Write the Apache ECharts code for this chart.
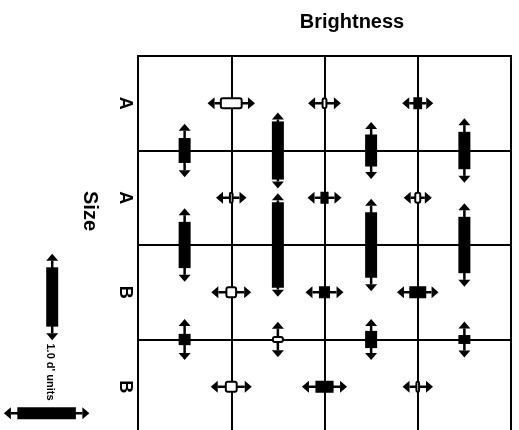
<!DOCTYPE html>
<html>
<head>
<meta charset="utf-8">
<script src="https://cdn.jsdelivr.net/npm/echarts@6/dist/echarts.min.js"></script>
<style>
  html, body { margin: 0; padding: 0; background: #fff; }
  #chart { width: 519px; height: 430px; }
</style>
</head>
<body>
<div id="chart"></div>
<script>
// row labels (size levels), top to bottom
const sizeLabels = ["A", "A", "B", "B"];

// brightness effects: horizontal glyphs sitting on the column borders (x = 1, 2, 3), one set per row
// d' value (negative = open box) and arrow reach past the box end, both in d' units
const brightnessD = [
    [-0.39, -0.10, 0.15],
    [-0.08, 0.14, -0.12],
    [-0.20, 0.19, 0.29],
    [-0.22, 0.31, -0.08],
];
const brightnessErr = [
    [0.21, 0.23, 0.19],
    [0.22, 0.22, 0.18],
    [0.24, 0.23, 0.21],
    [0.24, 0.23, 0.22],
];

// size effects: vertical glyphs sitting on the row borders (y = 1, 2, 3), one per column
const sizeD = [
    [0.42, 0.98, 0.54, 0.63],
    [0.78, 1.44, 1.10, 0.95],
    [0.19, -0.12, 0.29, 0.15],
];
const sizeErr = [
    [0.24, 0.15, 0.21, 0.23],
    [0.23, 0.15, 0.23, 0.23],
    [0.25, 0.24, 0.20, 0.23],
];

// scale key: 1.0 d' units
const keyD = 1.0;
const keyErr = 0.23;

const CELLS_PER_DPRIME = 0.628; // one d' unit measured in grid cells
const KEY_V_POS = [-0.92, 2.55];
const KEY_H_POS = [-0.98, 3.78];
const FONT = '"Liberation Sans", Arial, sans-serif';

const brightnessData = brightnessD.flatMap((row, i) =>
    row.map((d, j) => [j + 1, i + 0.5, d, brightnessErr[i][j]])
);
const sizeData = sizeD.flatMap((row, i) =>
    row.map((d, j) => [j + 0.5, i + 1, d, sizeErr[i][j]])
);

// bar with a double-headed arrow through it
function glyph(vertical) {
    return function (params, api) {
        const c = api.coord([api.value(0), api.value(1)]);
        const d = api.value(2);
        const barSize = api.size([Math.abs(d) * CELLS_PER_DPRIME, Math.abs(d) * CELLS_PER_DPRIME]);
        const errSize = api.size([api.value(3) * CELLS_PER_DPRIME, api.value(3) * CELLS_PER_DPRIME]);
        const len = vertical ? barSize[1] : barSize[0];
        const ext = vertical ? errSize[1] : errSize[0];
        const half = len / 2;
        const tip = half + ext;
        const thick = 12;
        const headLen = 7, headHalf = 6;
        const pt = (u, v) => (vertical ? [c[0] + v, c[1] + u] : [c[0] + u, c[1] + v]);
        const open = d < 0;

        const a = pt(-tip + headLen, 0), b = pt(tip - headLen, 0);
        const children = [
            {
                type: "line",
                shape: { x1: a[0], y1: a[1], x2: b[0], y2: b[1] },
                style: { stroke: "#000", lineWidth: 2.5 },
            },
            {
                type: "polygon",
                shape: { points: [pt(tip, 0), pt(tip - headLen, -headHalf), pt(tip - headLen, headHalf)] },
                style: { fill: "#000" },
            },
            {
                type: "polygon",
                shape: { points: [pt(-tip, 0), pt(-tip + headLen, -headHalf), pt(-tip + headLen, headHalf)] },
                style: { fill: "#000" },
            },
        ];

        let w = vertical ? thick : len;
        let h = vertical ? len : thick;
        if (open) {
            // stroke sits on the edge, shrink so the outer size stays the same
            w = Math.max(w - 2, 1);
            h = Math.max(h - 2, 1);
        }
        children.push({
            type: "rect",
            shape: { x: c[0] - w / 2, y: c[1] - h / 2, width: w, height: h, r: open ? Math.min(2, w / 2, h / 2) : 0 },
            style: open ? { fill: "#fff", stroke: "#000", lineWidth: 2 } : { fill: "#000" },
        });
        return { type: "group", children };
    };
}

const chart = echarts.init(document.getElementById("chart"));

const option = {
    animation: false,
    backgroundColor: "#fff",
    grid: {
        left: 138,
        top: 56,
        width: 373,
        height: 378,
        outerBoundsMode: "none",
        show: true,
        borderColor: "#000",
        borderWidth: 2,
    },
    xAxis: {
        type: "value",
        min: 0,
        max: 4,
        interval: 1,
        axisLine: { show: false },
        axisTick: { show: false },
        axisLabel: { show: false },
        splitLine: { lineStyle: { color: "#000", width: 2 } },
    },
    yAxis: [
        {
            type: "value",
            position: "right",
            inverse: true,
            min: 0,
            max: 4,
            interval: 1,
            axisLine: { show: false },
            axisTick: { show: false },
            axisLabel: { show: false },
            splitLine: { lineStyle: { color: "#000", width: 2 } },
        },
        {
            type: "category",
            position: "left",
            inverse: true,
            data: sizeLabels,
            axisLine: { show: false },
            axisTick: { show: false },
            splitLine: { show: false },
            axisLabel: {
                rotate: -90,
                margin: 4,
                color: "#000",
                fontSize: 18,
                fontWeight: "bold",
                fontFamily: FONT,
            },
        },
    ],
    graphic: [
        {
            type: "text",
            x: 352,
            y: 22,
            style: {
                text: "Brightness",
                font: "bold 20px " + FONT,
                fill: "#000",
                align: "center",
                verticalAlign: "middle",
            },
        },
        {
            type: "text",
            x: 90,
            y: 211,
            rotation: -Math.PI / 2,
            style: {
                text: "Size",
                font: "bold 20px " + FONT,
                fill: "#000",
                align: "center",
                verticalAlign: "middle",
            },
        },
        {
            type: "text",
            x: 50,
            y: 372,
            rotation: -Math.PI / 2,
            style: {
                text: "1.0 d' units",
                font: "bold 11px " + FONT,
                fill: "#000",
                align: "center",
                verticalAlign: "middle",
            },
        },
    ],
    series: [
        {
            name: "Brightness",
            type: "custom",
            yAxisIndex: 0,
            renderItem: glyph(false),
            data: brightnessData,
            clip: false,
        },
        {
            name: "Size",
            type: "custom",
            yAxisIndex: 0,
            renderItem: glyph(true),
            data: sizeData,
            clip: false,
        },
        {
            name: "Key vertical",
            type: "custom",
            yAxisIndex: 0,
            renderItem: glyph(true),
            data: [[KEY_V_POS[0], KEY_V_POS[1], keyD, keyErr]],
            clip: false,
        },
        {
            name: "Key horizontal",
            type: "custom",
            yAxisIndex: 0,
            renderItem: glyph(false),
            data: [[KEY_H_POS[0], KEY_H_POS[1], keyD, keyErr]],
            clip: false,
        },
    ],
};

chart.setOption(option);
</script>
</body>
</html>
